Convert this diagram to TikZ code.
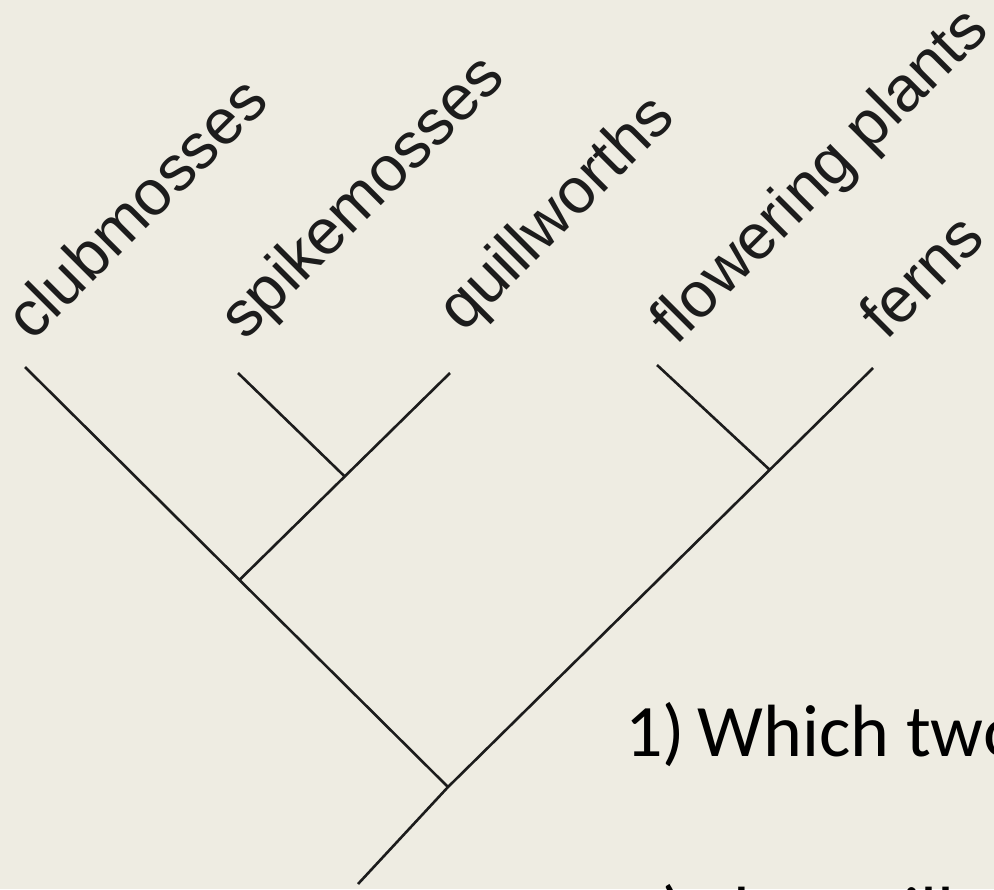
\documentclass[tikz,border=0pt]{standalone}
\usepackage{fontspec}
\setmainfont{Liberation Sans}
\newfontfamily\questfont{Carlito}
\usetikzlibrary{calc}
\definecolor{paper}{RGB}{238,236,226}
\definecolor{ink}{RGB}{28,28,28}

\begin{document}
\begin{tikzpicture}[x=0.5pt,y=-0.5pt,
		branch/.style={draw=ink,line width=1.3pt},
		taxon/.style={rotate=45,anchor=base west,inner sep=0pt,text=ink,
			font=\fontsize{32}{32}\selectfont},
		question/.style={anchor=base west,inner sep=0pt,
			font=\questfont\fontsize{37}{37}\selectfont}]

		% page
		\fill	[paper] (0,0) rectangle (994,889);
		\clip	(0,0) rectangle (994,889);

		% tips
		\coordinate (tipclub)	at (25,367);
		\coordinate (tipspike)	at (238,373);
		\coordinate (tipquill)	at (450,373);
		\coordinate (tipflower)	at (657,365);
		\coordinate (tipferns)	at (873,368);

		% branch points
		\coordinate (base)		at (358,884);
		\coordinate (root)		at (448,787);
		\coordinate (jlyco)		at ($(root)!0.493!(tipclub)$);
		\coordinate (jquill)	at ($(jlyco)!0.5!(tipquill)$);
		\coordinate (jseed)		at ($(root)!0.757!(tipferns)$);

		% branches
		\draw	[branch] (base) -- (root) -- (tipferns)
				(root) -- (tipclub)
				(jlyco) -- (tipquill)
				(jquill) -- (tipspike)
				(jseed) -- (tipflower);

		% labels
		\node	[taxon] (clubmosses)	at (32,343)		{clubmosses};
		\node	[taxon] (spikemosses)	at (245,342)	{spikemosses};
		\node	[taxon] (quillworths)	at (463,334)	{quillworths};
		\node	[taxon] (flowering)		at (676,347)	{flowering plants};
		\node	[taxon] (ferns)			at (886,342)	{ferns};

		% questions
		\node	[question] (qone)	at (625,756)	{1)\,Which two};
		\node	[question] (qtwo)	at (625,938)	{2)\,The quill};
	\end{tikzpicture}
\end{document}
